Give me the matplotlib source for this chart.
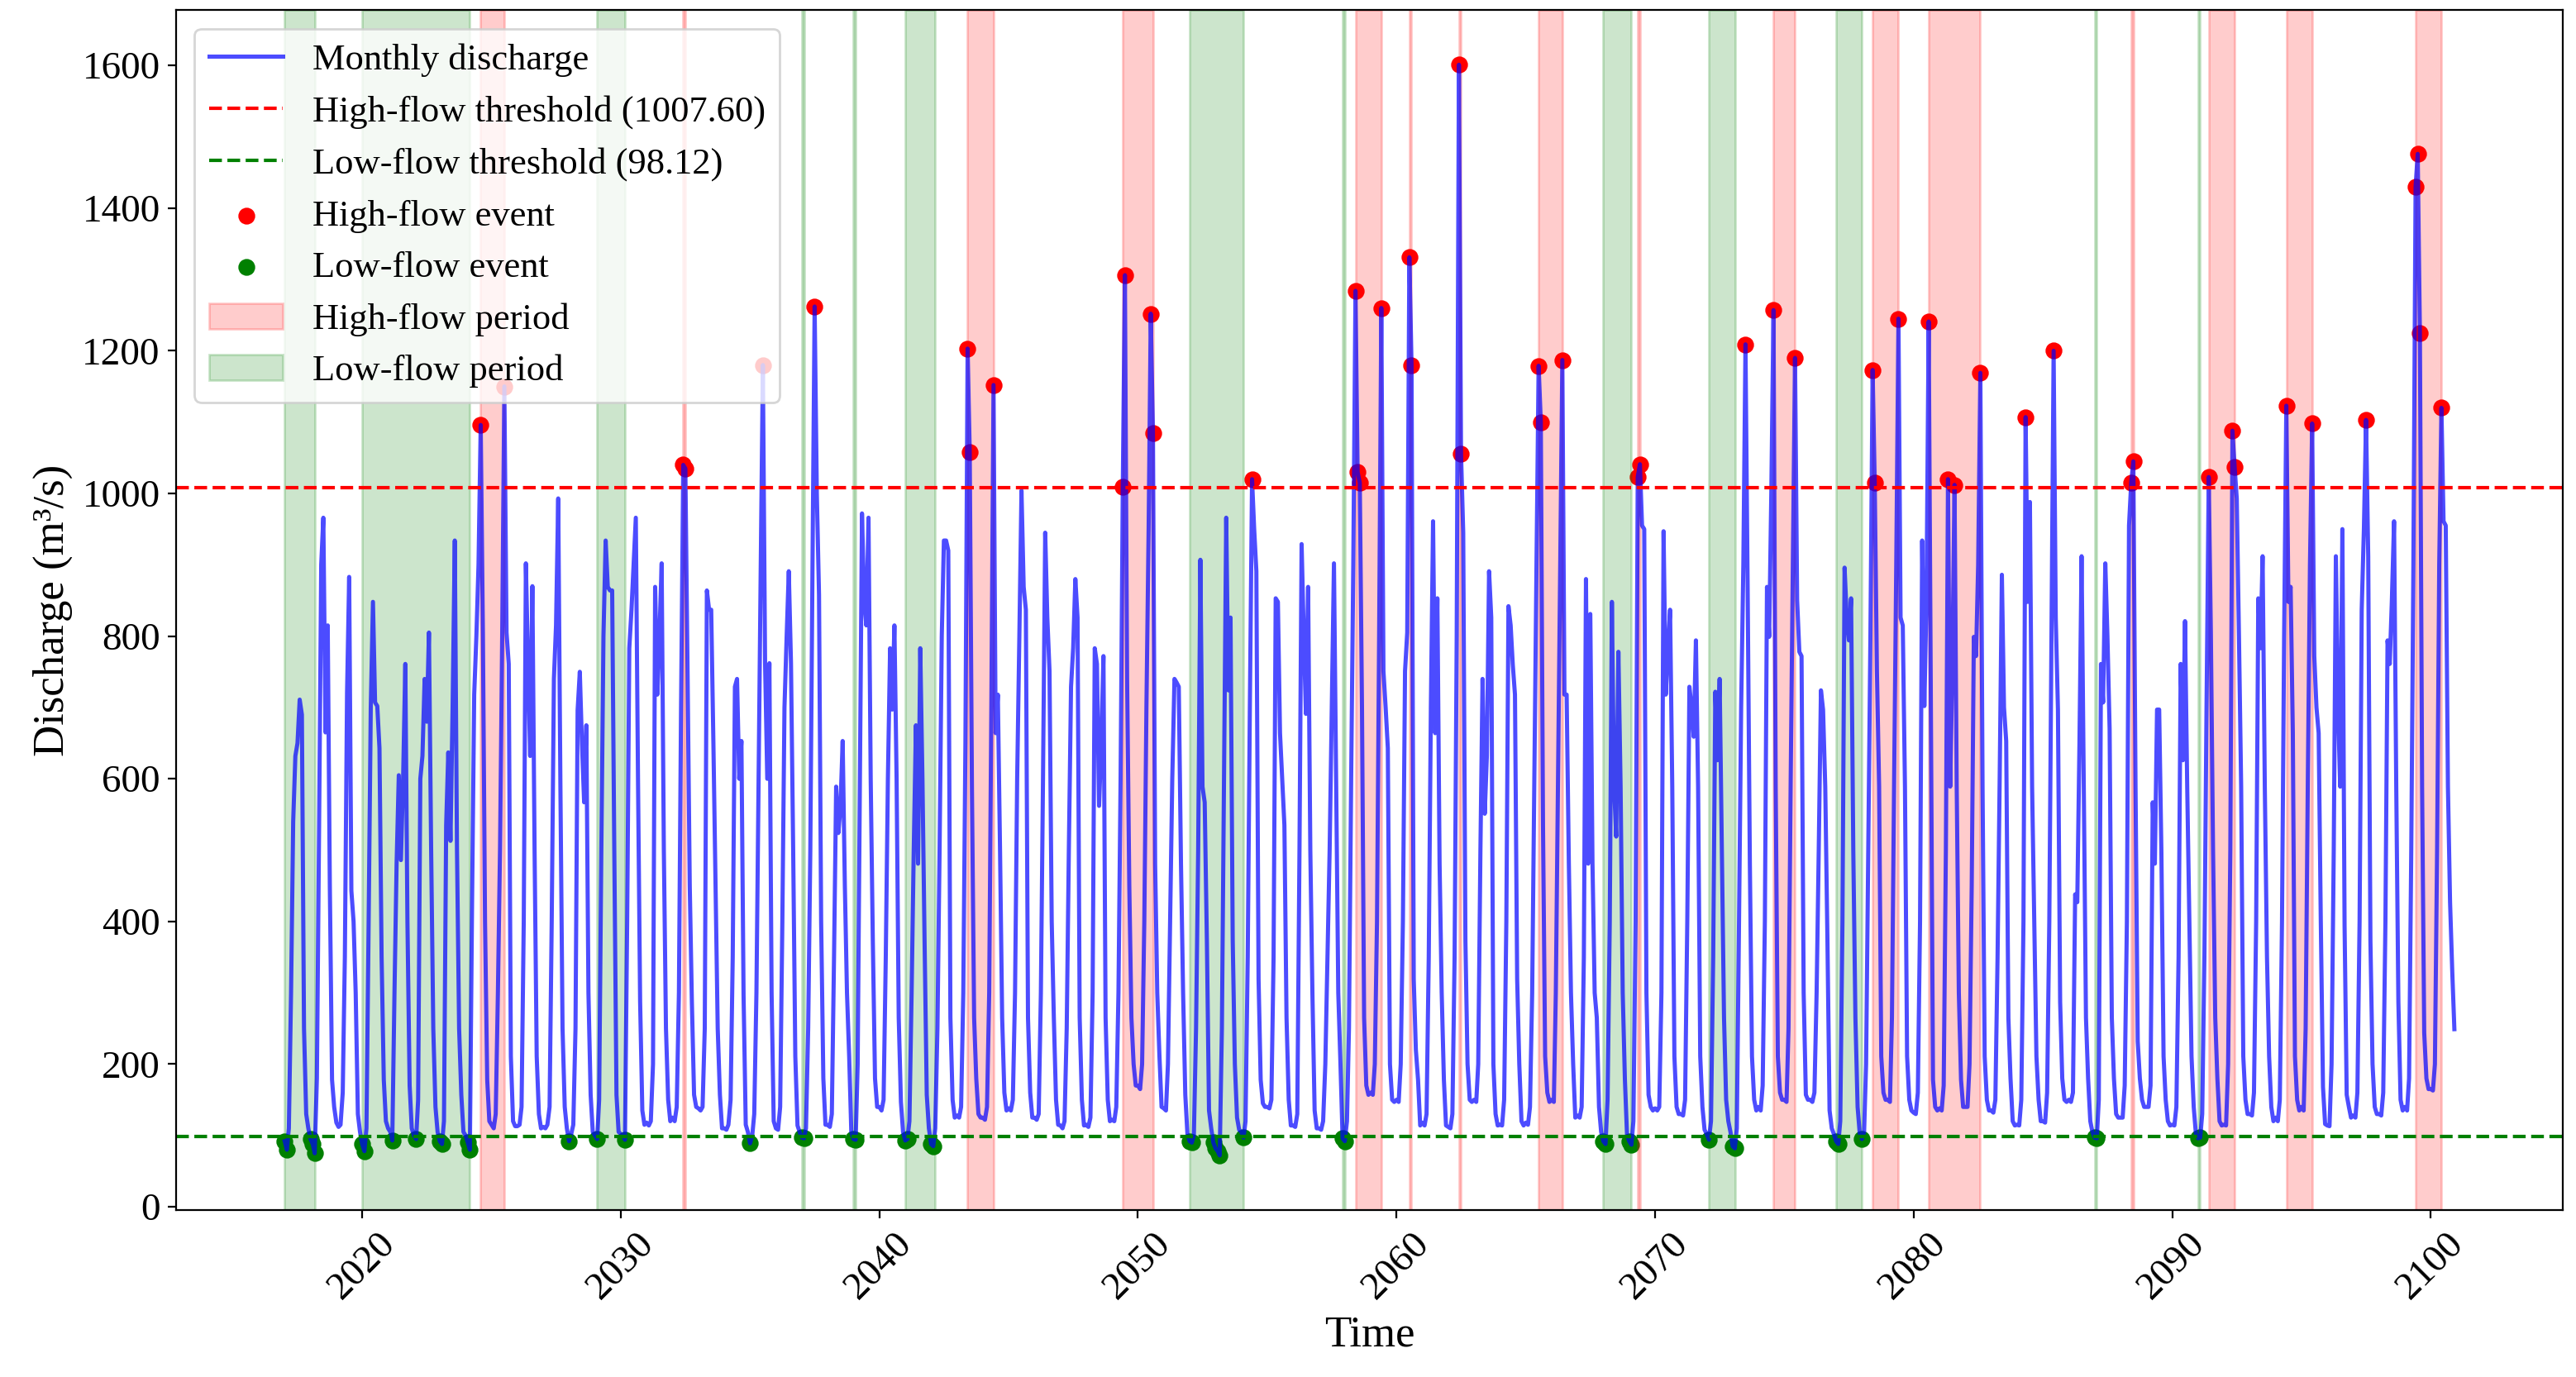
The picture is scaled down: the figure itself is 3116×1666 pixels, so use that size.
import numpy as np
import pandas as pd
import matplotlib
matplotlib.use("Agg")
import matplotlib.pyplot as plt
import matplotlib.dates as mdates

plt.rcParams['font.family'] = ['Liberation Serif', 'DejaVu Serif']

# monthly discharge (m3/s), Jan..Dec, one row per year
flow_2010s = [
    92, 80, 110, 300, 540, 632, 650, 711, 690, 250, 130, 110,     # 2017
    95, 88, 75, 180, 520, 900, 966, 665, 815, 448, 178, 140,      # 2018
    118, 112, 115, 160, 350, 720, 883, 443, 400, 300, 130, 105,   # 2019
]
flow_2020s = [
    88, 78, 110, 400, 700, 848, 707, 702, 643, 350, 178, 120,
    110, 105, 93, 300, 481, 605, 486, 600, 761, 400, 170, 110,
    100, 95, 150, 600, 632, 740, 680, 805, 500, 250, 140, 105,
    92, 88, 120, 535, 637, 513, 700, 934, 500, 250, 157, 105,
    100, 90, 80, 427, 718, 800, 900, 1096, 805, 400, 178, 120,
    115, 110, 130, 300, 502, 805, 1150, 805, 761, 211, 120, 113,
    113, 115, 140, 400, 902, 760, 632, 870, 500, 211, 130, 110,
    112, 110, 115, 140, 400, 740, 815, 993, 589, 250, 140, 110,
    92, 102, 115, 250, 696, 750, 650, 567, 675, 300, 157, 105,
    100, 95, 150, 500, 800, 934, 869, 864, 864, 500, 157, 105,
]
flow_2030s = [
    102, 100, 94, 400, 783, 837, 900, 966, 600, 287, 135, 115,
    118, 114, 120, 200, 869, 718, 800, 902, 500, 250, 150, 120,
    125, 120, 140, 300, 700, 1040, 1035, 750, 450, 287, 157, 140,
    138, 135, 140, 250, 864, 837, 837, 650, 450, 250, 157, 110,
    110, 108, 115, 150, 350, 729, 740, 600, 653, 297, 115, 105,
    89, 100, 130, 300, 600, 900, 1180, 762, 600, 762, 300, 120,
    110, 108, 140, 400, 700, 800, 891, 762, 500, 211, 114, 105,
    97, 96, 110, 250, 500, 900, 1262, 1000, 858, 400, 180, 115,
    115, 112, 130, 350, 589, 524, 560, 653, 450, 300, 211, 105,
    95, 94, 200, 600, 972, 850, 815, 966, 600, 373, 180, 140,
]
flow_2040s = [
    140, 135, 150, 350, 600, 783, 697, 815, 600, 265, 147, 105,
    93, 95, 120, 300, 500, 675, 481, 783, 600, 373, 157, 110,
    88, 85, 110, 250, 500, 800, 934, 934, 920, 265, 150, 125,
    128, 125, 140, 300, 650, 1203, 1058, 589, 265, 180, 130, 125,
    125, 122, 140, 300, 700, 1152, 664, 718, 500, 265, 160, 135,
    138, 135, 150, 300, 600, 800, 1004, 869, 837, 265, 160, 125,
    125, 122, 130, 300, 600, 945, 826, 751, 400, 265, 150, 115,
    114, 110, 120, 250, 500, 729, 783, 880, 826, 265, 150, 114,
    115, 112, 125, 300, 783, 761, 562, 650, 772, 265, 150, 120,
    122, 120, 140, 300, 600, 1009, 1306, 740, 450, 265, 200, 170,
]
flow_2050s = [
    170, 165, 200, 400, 700, 950, 1252, 1085, 481, 300, 211, 140,
    138, 135, 200, 400, 600, 740, 735, 729, 481, 300, 157, 102,
    92, 90, 100, 250, 500, 907, 589, 567, 373, 135, 110, 90,
    82, 78, 72, 250, 600, 966, 724, 826, 373, 200, 125, 108,
    105, 97, 120, 350, 700, 1020, 950, 891, 319, 178, 145, 140,
    140, 138, 150, 350, 853, 848, 664, 600, 535, 265, 150, 114,
    114, 112, 130, 500, 929, 800, 691, 869, 500, 298, 135, 110,
    110, 108, 120, 200, 350, 500, 700, 902, 600, 300, 200, 96,
    92, 120, 250, 600, 900, 1284, 1030, 1015, 700, 265, 170, 157,
    160, 157, 200, 400, 800, 1260, 751, 700, 643, 200, 150, 147,
]
flow_2060s = [
    150, 147, 200, 400, 751, 805, 1331, 1180, 319, 220, 178, 114,
    118, 114, 130, 350, 700, 961, 664, 853, 481, 300, 178, 114,
    112, 110, 130, 350, 800, 1601, 1056, 945, 373, 200, 150, 147,
    150, 147, 200, 500, 740, 551, 632, 891, 826, 200, 130, 114,
    115, 114, 150, 400, 842, 815, 760, 718, 319, 200, 120, 114,
    118, 115, 140, 300, 600, 900, 1179, 1100, 535, 211, 160, 147,
    150, 147, 300, 600, 900, 1187, 718, 718, 481, 300, 200, 125,
    128, 125, 140, 350, 880, 481, 831, 481, 300, 265, 140, 105,
    92, 88, 150, 400, 848, 589, 519, 778, 589, 300, 178, 100,
    92, 87, 120, 400, 1023, 1041, 955, 950, 300, 157, 140, 135,
]
flow_2070s = [
    138, 135, 140, 300, 947, 718, 780, 837, 589, 211, 140, 130,
    130, 128, 150, 400, 729, 700, 659, 794, 589, 211, 140, 108,
    102, 94, 120, 350, 722, 626, 740, 500, 265, 150, 120, 105,
    85, 82, 110, 400, 700, 900, 1209, 864, 481, 211, 150, 135,
    140, 135, 170, 400, 869, 799, 1000, 1257, 589, 211, 160, 150,
    150, 147, 250, 600, 900, 1190, 850, 778, 772, 300, 157, 150,
    150, 147, 160, 300, 500, 724, 697, 589, 373, 135, 110, 102,
    92, 88, 120, 400, 896, 826, 794, 853, 500, 265, 140, 103,
    95, 105, 200, 500, 800, 1173, 1015, 751, 589, 211, 160, 150,
    150, 147, 265, 600, 900, 1245, 826, 815, 589, 211, 150, 135,
]
flow_2080s = [
    132, 130, 160, 400, 934, 702, 850, 1241, 697, 178, 140, 135,
    138, 135, 170, 500, 1020, 589, 751, 1012, 589, 300, 178, 140,
    140, 140, 200, 450, 799, 772, 900, 1169, 589, 211, 150, 135,
    135, 132, 150, 350, 600, 886, 700, 653, 265, 180, 120, 114,
    115, 114, 150, 400, 1107, 848, 988, 589, 400, 211, 150, 120,
    120, 118, 160, 400, 800, 1200, 826, 697, 287, 180, 150, 147,
    150, 147, 160, 438, 427, 650, 912, 589, 265, 180, 120, 105,
    97, 96, 150, 761, 707, 902, 800, 670, 265, 180, 130, 125,
    125, 125, 170, 400, 955, 1015, 1045, 589, 232, 180, 150, 140,
    140, 140, 170, 567, 481, 697, 697, 500, 211, 150, 120, 114,
]
flow_2090s = [
    115, 114, 140, 350, 761, 626, 821, 589, 400, 211, 140, 103,
    96, 97, 130, 350, 700, 1023, 805, 500, 265, 180, 120, 114,
    115, 114, 200, 500, 1088, 1037, 993, 800, 589, 211, 150, 130,
    130, 128, 160, 400, 853, 783, 912, 589, 350, 211, 140, 120,
    125, 120, 150, 400, 800, 1123, 848, 869, 664, 211, 150, 135,
    140, 135, 250, 600, 900, 1098, 772, 700, 664, 400, 168, 116,
    114, 113, 200, 500, 912, 700, 589, 950, 394, 157, 140, 125,
    128, 125, 160, 400, 837, 950, 1103, 912, 373, 200, 140, 130,
    130, 128, 160, 400, 794, 761, 850, 961, 589, 287, 150, 135,
    140, 135, 180, 500, 900, 1430, 1476, 1225, 589, 244, 180, 165,
]
flow_2100 = [165, 163, 200, 500, 900, 1120, 961, 955, 589, 427, 330, 249]

high_threshold = 1007.60
low_threshold = 98.12

high_periods = [
    ('2024-08-01', '2025-07-01'), ('2032-06-01', '2032-07-01'),
    ('2043-06-01', '2044-06-01'), ('2049-06-01', '2050-08-01'),
    ('2058-06-01', '2059-06-01'), ('2060-07-01', '2060-08-01'),
    ('2062-06-01', '2062-07-01'), ('2065-07-01', '2066-06-01'),
    ('2069-05-01', '2069-06-01'), ('2074-08-01', '2075-06-01'),
    ('2078-06-01', '2079-06-01'), ('2080-08-01', '2082-08-01'),
    ('2088-06-01', '2088-07-01'), ('2091-06-01', '2092-06-01'),
    ('2094-06-01', '2095-06-01'), ('2099-06-01', '2100-06-01'),
]
low_periods = [
    ('2017-01-01', '2018-03-01'), ('2020-01-01', '2024-03-01'),
    ('2029-02-01', '2030-03-01'), ('2037-01-01', '2037-02-01'),
    ('2039-01-01', '2039-02-01'), ('2041-01-01', '2042-03-01'),
    ('2052-01-01', '2054-02-01'), ('2057-12-01', '2058-01-01'),
    ('2068-01-01', '2069-02-01'), ('2072-02-01', '2073-02-01'),
    ('2077-01-01', '2078-01-01'), ('2087-01-01', '2087-02-01'),
    ('2091-01-01', '2091-02-01'),
]

q = np.array(flow_2010s + flow_2020s + flow_2030s + flow_2040s + flow_2050s
             + flow_2060s + flow_2070s + flow_2080s + flow_2090s + flow_2100, dtype=float)
dates = pd.date_range('2017-01-01', periods=len(q), freq='MS')

hi = q > high_threshold
lo = q < low_threshold

fig, ax = plt.subplots(figsize=(15.58, 8.33), dpi=200)
fig.subplots_adjust(left=0.0684, right=0.9949, top=0.9926, bottom=0.1213)

ax.plot(dates, q, color='blue', alpha=0.7, lw=1.8, label='Monthly discharge')
ax.axhline(high_threshold, color='red', ls='--', lw=1.5,
           label=f'High-flow threshold ({high_threshold:.2f})')
ax.axhline(low_threshold, color='green', ls='--', lw=1.5,
           label=f'Low-flow threshold ({low_threshold:.2f})')
ax.scatter(dates[hi], q[hi], color='red', s=40, label='High-flow event')
ax.scatter(dates[lo], q[lo], color='green', s=40, label='Low-flow event')

for i, (s, e) in enumerate(high_periods):
    ax.axvspan(pd.Timestamp(s), pd.Timestamp(e), color='red', alpha=0.2,
               label='High-flow period' if i == 0 else None)
for i, (s, e) in enumerate(low_periods):
    ax.axvspan(pd.Timestamp(s), pd.Timestamp(e), color='green', alpha=0.2,
               label='Low-flow period' if i == 0 else None)

ax.xaxis.set_major_locator(mdates.YearLocator(10))
ax.xaxis.set_major_formatter(mdates.DateFormatter('%Y'))
ax.set_xlabel('Time', fontsize=19)
ax.set_ylabel('Discharge (m³/s)', fontsize=19)
ax.tick_params(labelsize=17)
plt.setp(ax.get_xticklabels(), rotation=45)
ax.legend(loc='upper left', fontsize=16)

fig.savefig('out.png')
